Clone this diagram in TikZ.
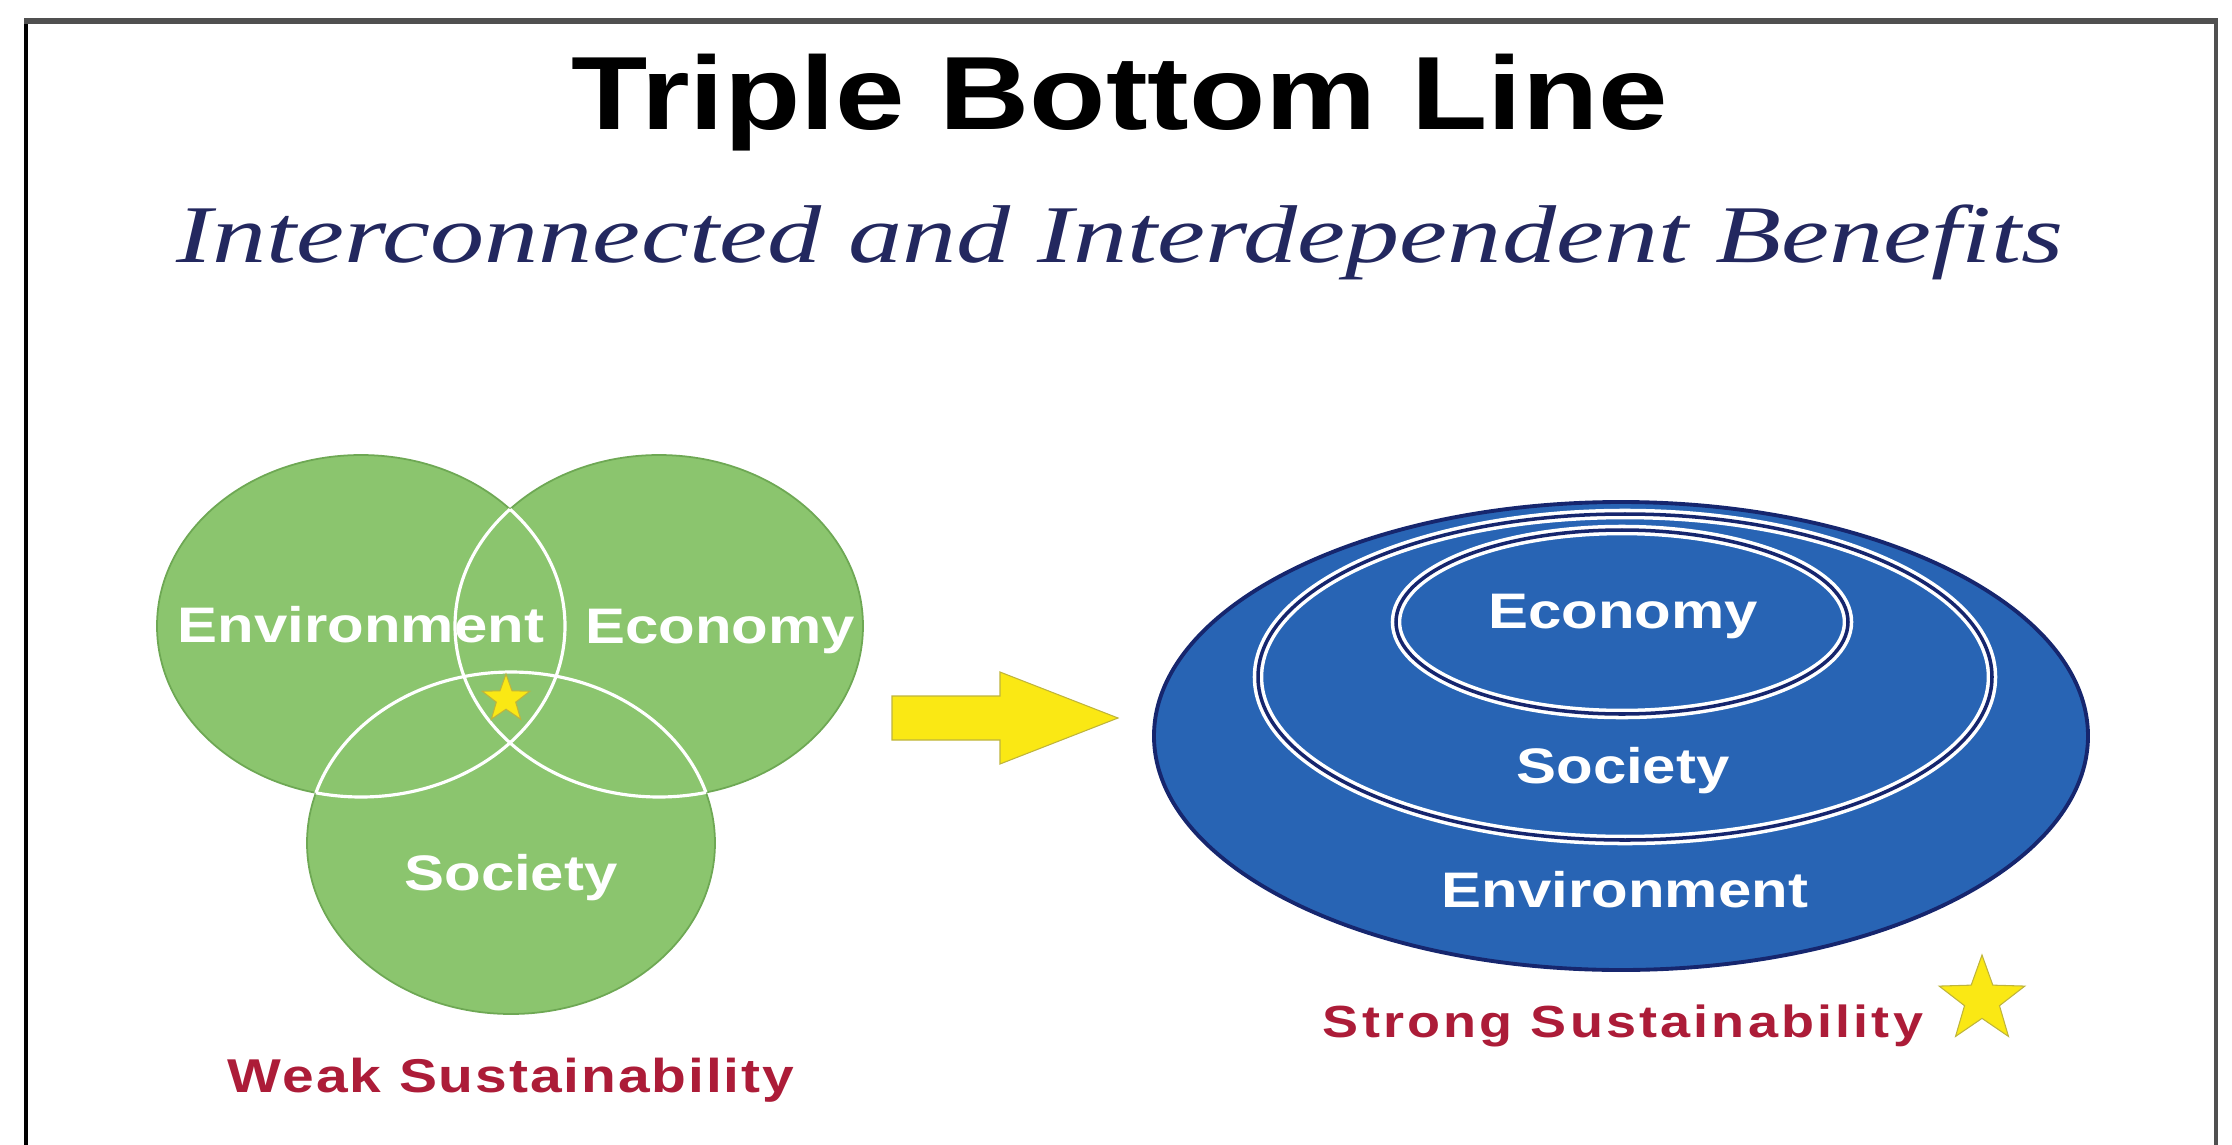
\documentclass[tikz,border=0pt]{standalone}
\usepackage{fontspec}
\usepackage{tikz}
\usetikzlibrary{shapes.geometric}
\newfontfamily\tblsans[FakeStretch=1.2]{Liberation Sans}
\newfontfamily\tblitalic[FakeStretch=1.32]{Liberation Serif}
\newfontfamily\tblweak[FakeStretch=1.2, LetterSpace=4]{Liberation Sans}
\newfontfamily\tblstrong[FakeStretch=1.2, LetterSpace=7]{Liberation Sans}
\definecolor{venngreen}{RGB}{139,197,110}
\definecolor{venndark}{RGB}{110,168,84}
\definecolor{nestblue}{RGB}{40,100,180}
\definecolor{nestnavy}{RGB}{22,38,110}
\definecolor{subnavy}{RGB}{35,40,95}
\definecolor{sustred}{RGB}{172,28,56}
\definecolor{stargold}{RGB}{250,232,20}
\definecolor{staredge}{RGB}{190,180,60}
\definecolor{framegray}{RGB}{80,80,80}

\tikzset{
	venn/.style={fill=venngreen, draw=venndark, line width=0.5pt},
	vennline/.style={draw=white, line width=0.9pt},
	nestouter/.style={fill=nestblue, draw=nestnavy, line width=1.1pt},
	nestring/.style={draw=white, line width=1pt, double=nestnavy, double distance=1pt},
	label/.style={anchor=base, text=white, inner sep=0pt, font=\tblsans\bfseries\fontsize{14.2pt}{16pt}\selectfont},
	goldstar/.style={star, star points=5, star point ratio=2.45, fill=stargold, draw=staredge, line width=0.3pt, inner sep=0pt},
}

\begin{document}
\begin{tikzpicture}[x=0.01cm, y=-0.01cm]
		\useasboundingbox (0,0) rectangle (2232,1145);
		\draw[black, line width=1.1pt] (26,1145) -- (26,21);
		\draw[framegray, line width=1.1pt] (2216,21) -- (2216,1145);
		\draw[framegray, line width=1.8pt] (24,21) -- (2218,21);

		\node[anchor=base, inner sep=0pt, font=\tblsans\bfseries\fontsize{29.6pt}{32pt}\selectfont] (title) at (1120,129) {Triple Bottom Line};
		\node[anchor=base, inner sep=0pt, text=subnavy, font=\tblitalic\itshape\fontsize{23.3pt}{26pt}\selectfont] (subtitle) at (1120,262) {Interconnected and Interdependent Benefits};

		\coordinate (envc) at (361,626);
		\coordinate (ecoc) at (659,626);
		\coordinate (socc) at (511,843);
		\path[venn] (envc) ellipse [x radius=204, y radius=171];
		\path[venn] (ecoc) ellipse [x radius=204, y radius=171];
		\path[venn] (socc) ellipse [x radius=204, y radius=171];
		\begin{scope}
			\clip (ecoc) ellipse [x radius=204, y radius=171] (socc) ellipse [x radius=204, y radius=171];
			\draw[vennline] (envc) ellipse [x radius=204, y radius=171];
		\end{scope}
		\begin{scope}
			\clip (envc) ellipse [x radius=204, y radius=171] (socc) ellipse [x radius=204, y radius=171];
			\draw[vennline] (ecoc) ellipse [x radius=204, y radius=171];
		\end{scope}
		\begin{scope}
			\clip (envc) ellipse [x radius=204, y radius=171] (ecoc) ellipse [x radius=204, y radius=171];
			\draw[vennline] (socc) ellipse [x radius=204, y radius=171];
		\end{scope}
		\node[label] (venv) at (361,642) {Environment};
		\node[label] (veco) at (720,643) {Economy};
		\node[label] (vsoc) at (511,890) {Society};
		\node[goldstar, minimum size=0.5cm] (vstar) at (506,699) {};
		\node[anchor=base, inner sep=0pt, text=sustred, font=\tblweak\bfseries\fontsize{13.5pt}{16pt}\selectfont] (weak) at (511,1092) {Weak Sustainability};

		\draw[fill=stargold, draw=staredge, line width=0.3pt] (892,696) -- (1000,696) -- (1000,672) -- (1118,718) -- (1000,764) -- (1000,740) -- (892,740) -- cycle;

		\coordinate (outerc) at (1621,736);
		\coordinate (midc) at (1625,677);
		\coordinate (innerc) at (1622,622);
		\path[nestouter] (outerc) ellipse [x radius=467, y radius=234];
		\path[nestring] (midc) ellipse [x radius=367, y radius=163];
		\path[nestring] (innerc) ellipse [x radius=226, y radius=92];
		\node[label] (neco) at (1623,628) {Economy};
		\node[label] (nsoc) at (1623,783) {Society};
		\node[label] (nenv) at (1625,907) {Environment};
		\node[anchor=base, inner sep=0pt, text=sustred, font=\tblstrong\bfseries\fontsize{12.8pt}{16pt}\selectfont] (strong) at (1623,1037) {Strong Sustainability};
		\node[goldstar, minimum size=0.9cm] (sstar) at (1982,1000) {};
	\end{tikzpicture}
\end{document}
